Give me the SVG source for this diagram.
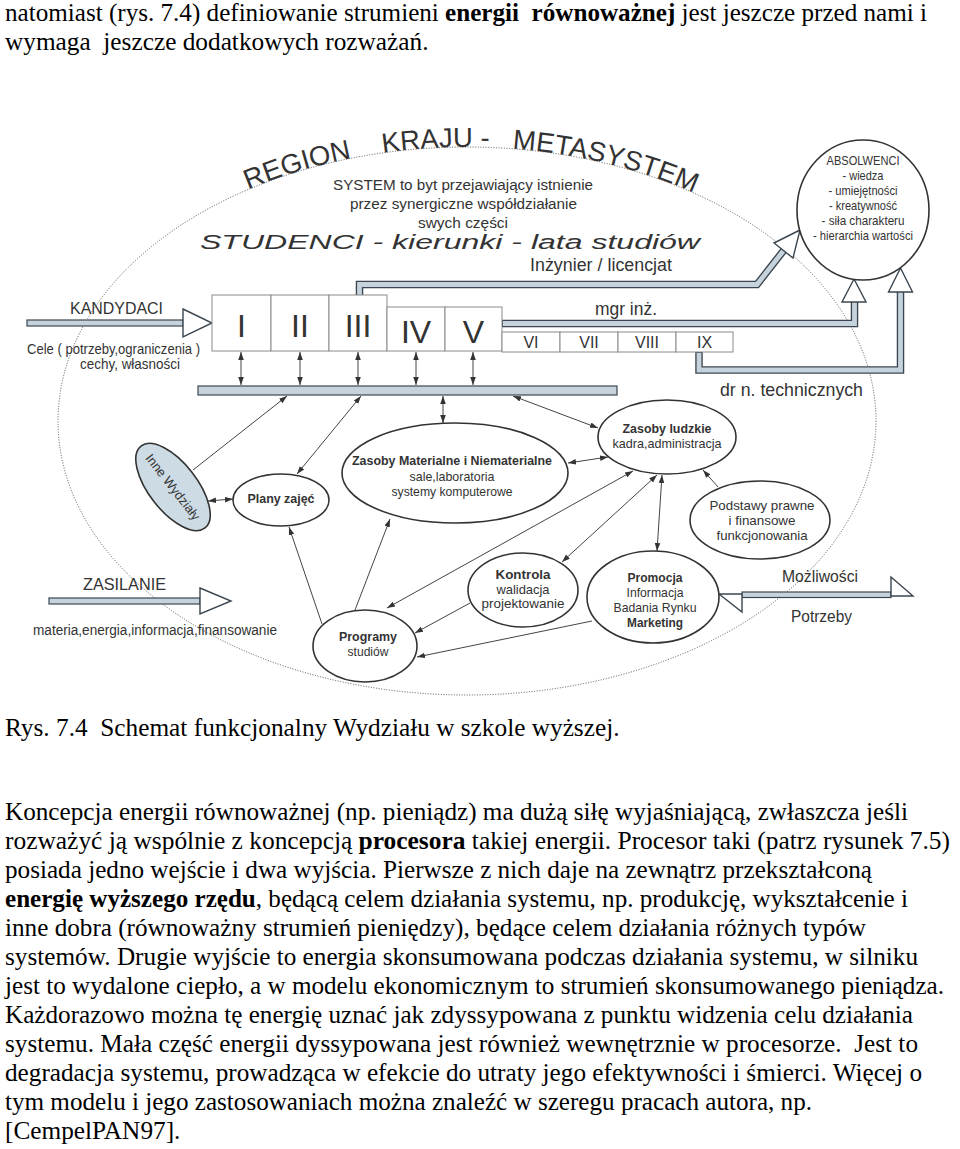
<svg xmlns="http://www.w3.org/2000/svg" width="960" height="1149" viewBox="0 0 960 1149">
<style>
.t{font-family:"Liberation Sans",Arial,sans-serif;fill:#333}
.b{font-weight:bold}
.p{font-family:"Liberation Serif","Times New Roman",serif;font-size:25.3px;fill:#000}
.node{fill:#fff;stroke:#333;stroke-width:1.6}
.box{fill:#fff;stroke:#8a8a8a;stroke-width:1}
.bandD{fill:none;stroke:#3b4650;stroke-width:7.5;stroke-linejoin:miter}
.bandL{fill:none;stroke:#c6d3dc;stroke-width:4.8;stroke-linejoin:miter}
.bar{fill:#c6d3dc;stroke:#3b4650;stroke-width:1.2}
.head{fill:#fff;stroke:#3b4650;stroke-width:1.4;stroke-linejoin:miter}
.conn{stroke:#444;stroke-width:1;fill:none}
.dot{fill:none;stroke:#555;stroke-width:1;stroke-dasharray:1 1.6}
</style>
<defs>
<marker id="ah" viewBox="0 0 10 10" refX="10" refY="5" markerWidth="8" markerHeight="8" markerUnits="userSpaceOnUse" orient="auto-start-reverse">
<path d="M0,1.5 L10,5 L0,8.5 z" fill="#333"/>
</marker>
<path id="arc" d="M58,421 A409,274 0 0 1 876,421"/>
</defs>

<rect width="960" height="1149" fill="#fff"/>

<!-- page text -->
<g id="pagetext">
<text class="p" x="5" y="21" textLength="922" lengthAdjust="spacingAndGlyphs" xml:space="preserve">natomiast (rys. 7.4) definiowanie strumieni <tspan font-weight="bold">energii  równoważnej</tspan> jest jeszcze przed nami i</text>
<text class="p" x="5" y="50" xml:space="preserve">wymaga  jeszcze dodatkowych rozważań.</text>
<text class="p" x="5" y="736" xml:space="preserve">Rys. 7.4  Schemat funkcjonalny Wydziału w szkole wyższej.</text>
<text class="p" x="5" y="820" textLength="903" lengthAdjust="spacingAndGlyphs">Koncepcja energii równoważnej (np. pieniądz) ma dużą siłę wyjaśniającą, zwłaszcza jeśli</text>
<text class="p" x="5" y="849" textLength="945" lengthAdjust="spacingAndGlyphs">rozważyć ją wspólnie z koncepcją <tspan font-weight="bold">procesora</tspan> takiej energii. Procesor taki (patrz rysunek 7.5)</text>
<text class="p" x="5" y="878" textLength="867" lengthAdjust="spacingAndGlyphs">posiada jedno wejście i dwa wyjścia. Pierwsze z nich daje na zewnątrz przekształconą</text>
<text class="p" x="5" y="907" textLength="903" lengthAdjust="spacingAndGlyphs"><tspan font-weight="bold">energię wyższego rzędu</tspan>, będącą celem działania systemu, np. produkcję, wykształcenie i</text>
<text class="p" x="5" y="936" textLength="861" lengthAdjust="spacingAndGlyphs">inne dobra (równoważny strumień pieniędzy), będące celem działania różnych typów</text>
<text class="p" x="5" y="965" textLength="913" lengthAdjust="spacingAndGlyphs">systemów. Drugie wyjście to energia skonsumowana podczas działania systemu, w silniku</text>
<text class="p" x="5" y="994" textLength="939" lengthAdjust="spacingAndGlyphs">jest to wydalone ciepło, a w modelu ekonomicznym to strumień skonsumowanego pieniądza.</text>
<text class="p" x="5" y="1023" textLength="908" lengthAdjust="spacingAndGlyphs">Każdorazowo można tę energię uznać jak zdyssypowana z punktu widzenia celu działania</text>
<text class="p" x="5" y="1052" textLength="913" lengthAdjust="spacingAndGlyphs" xml:space="preserve">systemu. Mała część energii dyssypowana jest również wewnętrznie w procesorze.  Jest to</text>
<text class="p" x="5" y="1081" textLength="917" lengthAdjust="spacingAndGlyphs">degradacja systemu, prowadząca w efekcie do utraty jego efektywności i śmierci. Więcej o</text>
<text class="p" x="5" y="1110" textLength="807" lengthAdjust="spacingAndGlyphs">tym modelu i jego zastosowaniach można znaleźć w szeregu pracach autora, np.</text>
<text class="p" x="5" y="1139">[CempelPAN97].</text>
</g>

<!-- metasystem boundary -->
<g id="metasystem">
<ellipse class="dot" cx="467" cy="421" rx="409" ry="274"/>
<text class="t" font-size="27.5"><textPath href="#arc" startOffset="317">REGION</textPath></text>
<text class="t" font-size="27.5"><textPath href="#arc" startOffset="457">KRAJU -</textPath></text>
<text class="t" font-size="27.5"><textPath href="#arc" startOffset="587">METASYSTEM</textPath></text>
</g>

<g id="system-label">
<text class="t" x="333" y="190" font-size="15.5" textLength="260" lengthAdjust="spacingAndGlyphs">SYSTEM to byt przejawiający istnienie</text>
<text class="t" x="350" y="209" font-size="15.5" textLength="227" lengthAdjust="spacingAndGlyphs">przez synergiczne współdziałanie</text>
<text class="t" x="418" y="227.5" font-size="15.5" textLength="90" lengthAdjust="spacingAndGlyphs">swych części</text>
<text class="t" x="200" y="249" font-size="20" font-style="italic" textLength="500" lengthAdjust="spacingAndGlyphs">STUDENCI - kierunki - lata studiów</text>
<text class="t" x="530" y="271" font-size="17.5" textLength="142" lengthAdjust="spacingAndGlyphs">Inżynier / licencjat</text>
</g>

<!-- connectors -->
<g id="connectors">
<path class="bandD" d="M359.5,297 L359.5,284.5 L757,284.5 L784,250"/>
<path class="bandL" d="M359.5,296 L359.5,284.5 L757,284.5 L784,250"/>
<path class="bandD" d="M502,323.5 L854.5,323.5 L854.5,301"/>
<path class="bandL" d="M503,323.5 L854.5,323.5 L854.5,301"/>
<path class="bandD" d="M699,352 L699,370 L900.5,370 L900.5,291"/>
<path class="bandL" d="M699,353 L699,370 L900.5,370 L900.5,291"/>
<polygon class="head" points="800,230 774,243 793,258"/>
<polygon class="head" points="854,279 842,302 866,302"/>
<polygon class="head" points="900.5,268 888.5,292 912.5,292"/>
<rect class="bar" x="27" y="320" width="156" height="6"/>
<polygon class="head" points="183,309 212,323 183,337"/>
<rect class="bar" x="49" y="598" width="151" height="6"/>
<polygon class="head" points="200,588 231,601 200,614"/>
<rect class="bar" x="742" y="592" width="149" height="5.5"/>
<polygon class="head" points="891,577 913,596 891,596"/>
<polygon class="head" points="719,594 742,612 742,594"/>
<rect class="bar" x="198" y="386" width="419" height="9"/>
<line class="conn" x1="241" y1="352" x2="241" y2="385" marker-start="url(#ah)" marker-end="url(#ah)"/>
<line class="conn" x1="300" y1="352" x2="300" y2="385" marker-start="url(#ah)" marker-end="url(#ah)"/>
<line class="conn" x1="358" y1="352" x2="358" y2="385" marker-start="url(#ah)" marker-end="url(#ah)"/>
<line class="conn" x1="416" y1="352" x2="416" y2="385" marker-start="url(#ah)" marker-end="url(#ah)"/>
<line class="conn" x1="473" y1="352" x2="473" y2="385" marker-start="url(#ah)" marker-end="url(#ah)"/>
<line class="conn" x1="193" y1="470" x2="287" y2="396" marker-end="url(#ah)"/>
<line class="conn" x1="297" y1="474" x2="361" y2="396" marker-start="url(#ah)" marker-end="url(#ah)"/>
<line class="conn" x1="443" y1="423" x2="443" y2="396" marker-start="url(#ah)" marker-end="url(#ah)"/>
<line class="conn" x1="598" y1="428" x2="513" y2="396" marker-start="url(#ah)" marker-end="url(#ah)"/>
<line class="conn" x1="568" y1="463" x2="608" y2="457" marker-start="url(#ah)" marker-end="url(#ah)"/>
<line class="conn" x1="208" y1="501" x2="233" y2="499" marker-start="url(#ah)" marker-end="url(#ah)"/>
<line class="conn" x1="322" y1="624" x2="289" y2="527" marker-end="url(#ah)"/>
<line class="conn" x1="355" y1="610" x2="390" y2="519" marker-end="url(#ah)"/>
<line class="conn" x1="633" y1="471" x2="387" y2="608" marker-start="url(#ah)" marker-end="url(#ah)"/>
<line class="conn" x1="657" y1="475" x2="562" y2="562" marker-start="url(#ah)" marker-end="url(#ah)"/>
<line class="conn" x1="662" y1="475" x2="657" y2="551" marker-start="url(#ah)" marker-end="url(#ah)"/>
<line class="conn" x1="718" y1="487" x2="703" y2="470" marker-end="url(#ah)"/>
<line class="conn" x1="470" y1="603" x2="415" y2="633" marker-end="url(#ah)"/>
<line class="conn" x1="592" y1="621" x2="417" y2="657" marker-end="url(#ah)"/>
</g>

<!-- year boxes -->
<g id="years">
<rect class="box" x="212" y="295" width="59" height="56"/>
<rect class="box" x="271" y="295" width="58" height="56"/>
<rect class="box" x="329" y="295" width="58" height="56"/>
<rect class="box" x="387" y="307" width="58" height="44"/>
<rect class="box" x="445" y="307" width="57" height="44"/>
<rect class="box" x="502" y="332" width="58" height="20"/>
<rect class="box" x="560" y="332" width="58" height="20"/>
<rect class="box" x="618" y="332" width="58" height="20"/>
<rect class="box" x="676" y="332" width="57" height="20"/>
<g class="t" text-anchor="middle">
<text x="241.5" y="337" font-size="32">I</text>
<text x="300" y="337" font-size="32">II</text>
<text x="358" y="337" font-size="32">III</text>
<text x="416" y="343" font-size="32">IV</text>
<text x="473.5" y="343" font-size="32">V</text>
<text x="531" y="348" font-size="16">VI</text>
<text x="589" y="348" font-size="16">VII</text>
<text x="647" y="348" font-size="16">VIII</text>
<text x="704.5" y="348" font-size="16">IX</text>
</g>
</g>

<!-- side labels -->
<g id="labels">
<text class="t" x="70" y="314" font-size="17" textLength="93" lengthAdjust="spacingAndGlyphs">KANDYDACI</text>
<text class="t" x="27" y="354" font-size="15" textLength="173" lengthAdjust="spacingAndGlyphs">Cele ( potrzeby,ograniczenia )</text>
<text class="t" x="80" y="369" font-size="15" textLength="100" lengthAdjust="spacingAndGlyphs">cechy, własności</text>
<text class="t" x="83" y="590" font-size="17" textLength="83" lengthAdjust="spacingAndGlyphs">ZASILANIE</text>
<text class="t" x="33" y="635" font-size="14" textLength="244" lengthAdjust="spacingAndGlyphs">materia,energia,informacja,finansowanie</text>
<text class="t" x="782" y="582" font-size="17" textLength="76" lengthAdjust="spacingAndGlyphs">Możliwości</text>
<text class="t" x="791" y="622" font-size="17" textLength="61" lengthAdjust="spacingAndGlyphs">Potrzeby</text>
<text class="t" x="595" y="315" font-size="18" textLength="62" lengthAdjust="spacingAndGlyphs">mgr inż.</text>
<text class="t" x="720" y="396" font-size="19" textLength="143" lengthAdjust="spacingAndGlyphs">dr n. technicznych</text>
</g>

<!-- nodes -->
<g id="absolwenci">
<ellipse class="node" cx="863" cy="210" rx="66" ry="70"/>
<g class="t" font-size="13" text-anchor="middle">
<text x="863" y="165" textLength="73" lengthAdjust="spacingAndGlyphs">ABSOLWENCI</text>
<text x="863" y="180" textLength="41" lengthAdjust="spacingAndGlyphs">- wiedza</text>
<text x="863" y="195" textLength="69" lengthAdjust="spacingAndGlyphs">- umiejętności</text>
<text x="863" y="210" textLength="68" lengthAdjust="spacingAndGlyphs">- kreatywność</text>
<text x="863" y="225" textLength="83" lengthAdjust="spacingAndGlyphs">- siła charakteru</text>
<text x="863" y="240" textLength="100" lengthAdjust="spacingAndGlyphs">- hierarchia wartości</text>
</g>
</g>

<g id="zasoby-ludzkie">
<ellipse class="node" cx="667" cy="437" rx="69" ry="37"/>
<text class="t b" x="667" y="433" font-size="13" text-anchor="middle" textLength="89" lengthAdjust="spacingAndGlyphs">Zasoby ludzkie</text>
<text class="t" x="667" y="448" font-size="13" text-anchor="middle" textLength="109" lengthAdjust="spacingAndGlyphs">kadra,administracja</text>
</g>

<g id="zasoby-materialne">
<ellipse class="node" cx="455" cy="473" rx="113" ry="50"/>
<text class="t b" x="452" y="465" font-size="13" text-anchor="middle" textLength="200" lengthAdjust="spacingAndGlyphs">Zasoby Materialne i Niematerialne</text>
<text class="t" x="452" y="481" font-size="13" text-anchor="middle" textLength="85" lengthAdjust="spacingAndGlyphs">sale,laboratoria</text>
<text class="t" x="452" y="496" font-size="13" text-anchor="middle" textLength="121" lengthAdjust="spacingAndGlyphs">systemy komputerowe</text>
</g>

<g id="inne-wydzialy">
<ellipse cx="173" cy="487" rx="52" ry="24" transform="rotate(52 173 487)" fill="#cddbe4" stroke="#333" stroke-width="1.6"/>
<text class="t" transform="translate(173,487) rotate(52)" y="4.5" font-size="13" text-anchor="middle" textLength="80" lengthAdjust="spacingAndGlyphs">Inne Wydziały</text>
</g>

<g id="plany">
<ellipse class="node" cx="281" cy="500" rx="48" ry="26"/>
<text class="t b" x="281" y="503" font-size="13" text-anchor="middle" textLength="67" lengthAdjust="spacingAndGlyphs">Plany zajęć</text>
</g>

<g id="programy">
<ellipse class="node" cx="365" cy="646" rx="52" ry="36"/>
<text class="t b" x="368" y="641" font-size="13" text-anchor="middle" textLength="58" lengthAdjust="spacingAndGlyphs">Programy</text>
<text class="t" x="368" y="656" font-size="13" text-anchor="middle" textLength="41" lengthAdjust="spacingAndGlyphs">studiów</text>
</g>

<g id="kontrola">
<ellipse class="node" cx="523" cy="590" rx="55" ry="37"/>
<text class="t b" x="523" y="579" font-size="13" text-anchor="middle" textLength="55" lengthAdjust="spacingAndGlyphs">Kontrola</text>
<text class="t" x="523" y="594" font-size="13" text-anchor="middle" textLength="53" lengthAdjust="spacingAndGlyphs">walidacja</text>
<text class="t" x="523" y="608" font-size="13" text-anchor="middle" textLength="83" lengthAdjust="spacingAndGlyphs">projektowanie</text>
</g>

<g id="promocja">
<ellipse class="node" cx="653" cy="597" rx="66" ry="46"/>
<text class="t b" x="655" y="582" font-size="13" text-anchor="middle" textLength="55" lengthAdjust="spacingAndGlyphs">Promocja</text>
<text class="t" x="655" y="597" font-size="13" text-anchor="middle" textLength="57" lengthAdjust="spacingAndGlyphs">Informacja</text>
<text class="t" x="655" y="612" font-size="13" text-anchor="middle" textLength="83" lengthAdjust="spacingAndGlyphs">Badania Rynku</text>
<text class="t b" x="655" y="627" font-size="13" text-anchor="middle" textLength="56" lengthAdjust="spacingAndGlyphs">Marketing</text>
</g>

<g id="podstawy">
<ellipse class="node" cx="760" cy="520" rx="70" ry="39"/>
<text class="t" x="762" y="510" font-size="13" text-anchor="middle" textLength="105" lengthAdjust="spacingAndGlyphs">Podstawy prawne</text>
<text class="t" x="762" y="525" font-size="13" text-anchor="middle" textLength="67" lengthAdjust="spacingAndGlyphs">i finansowe</text>
<text class="t" x="762" y="540" font-size="13" text-anchor="middle" textLength="91" lengthAdjust="spacingAndGlyphs">funkcjonowania</text>
</g>
</svg>
